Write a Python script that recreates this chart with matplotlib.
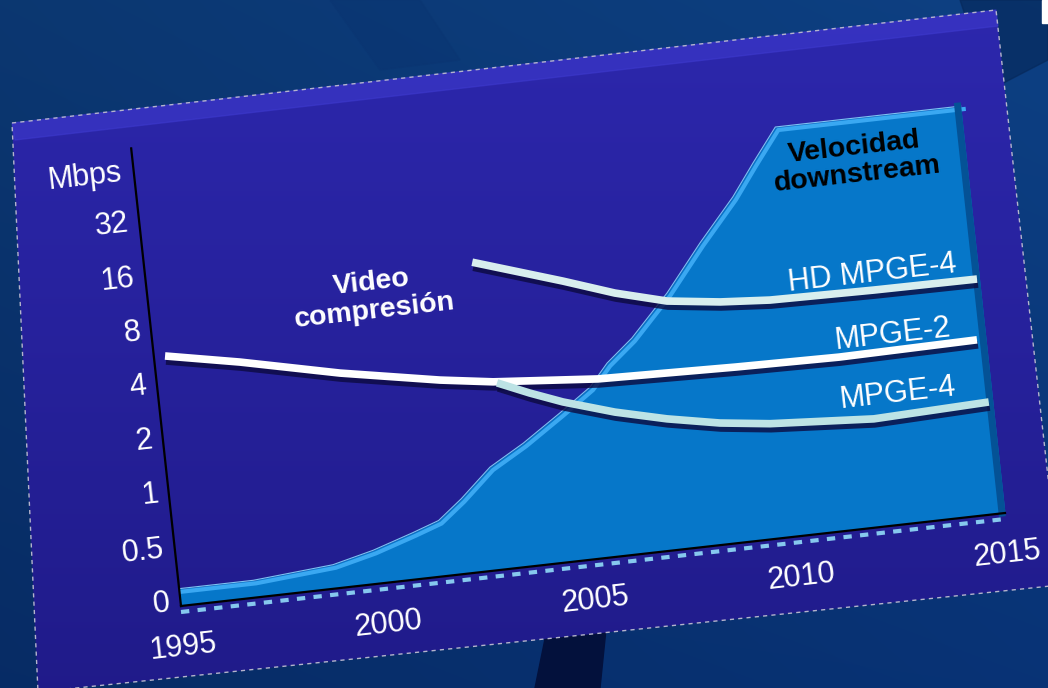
import numpy as np
import matplotlib
matplotlib.use('Agg')
import matplotlib.pyplot as plt
from matplotlib.patches import Polygon, Rectangle
from matplotlib.transforms import Affine2D, offset_copy

plt.rcParams['font.family'] = ['Liberation Sans', 'DejaVu Sans']

# axis ticks
y_ticks = [0, 0.5, 1, 2, 4, 8, 16, 32]
y_labels = ['0', '0.5', '1', '2', '4', '8', '16', '32']
x_ticks = [1995, 2000, 2005, 2010, 2015]

# Velocidad downstream (area), Mbps
dl_years = [1995, 1996.8, 1998.75, 1999.75, 2000.75, 2001.4, 2002.0, 2002.77, 2003.63,
            2004.59, 2005.38, 2005.85, 2006.51, 2007.47, 2008.39, 2009.3, 2009.87, 2010.5, 2015]
dl_mbps = [0.16, 0.16, 0.22, 0.31, 0.43, 0.51, 0.65, 0.93, 1.20,
           1.67, 2.22, 2.93, 3.88, 6.52, 11.7, 20.0, 29.8, 45.5, 45.5]

# video compression lines, Mbps
mpge2_years = [1995.27, 1997.05, 1999.42, 2001.8, 2003.07, 2005.59, 2008.93, 2011.43, 2014.78]
mpge2 = [6.02, 5.01, 3.78, 3.0, 2.72, 2.43, 2.32, 2.27, 2.32]

mpge4_years = [2003.16, 2003.92, 2004.69, 2005.91, 2007.14, 2008.4, 2009.6, 2012.1, 2014.9]
mpge4 = [2.67, 2.24, 1.91, 1.56, 1.33, 1.17, 1.08, 0.99, 1.04]

hd_years = [2002.88, 2005.0, 2006.22, 2007.45, 2008.72, 2009.92, 2012.44, 2014.94]
hd = [12.7, 8.8, 7.02, 5.89, 5.40, 5.15, 5.04, 5.0]

W, H = 1048, 688
fig = plt.figure(figsize=(W / 100, H / 100), dpi=100)

# ---- background (pixel coords) ----
bg = fig.add_axes([0, 0, 1, 1])
bg.set_xlim(0, W)
bg.set_ylim(H, 0)
bg.axis('off')

yy, xx = np.mgrid[0:H, 0:W] / np.array([H, W])[:, None, None]
top = np.array([0.05, 0.24, 0.49])
bot = np.array([0.03, 0.19, 0.44])
img = top[None, None, :] * (1 - yy[..., None]) + bot[None, None, :] * yy[..., None]
img = img * (0.9 + 0.15 * xx[..., None])
bg.imshow(np.clip(img, 0, 1), extent=(0, W, H, 0), zorder=0, aspect='auto')

# dark streaks of the slide background
bg.add_patch(Polygon([(535, 688), (555, 590), (610, 590), (600, 688)], color='#03113c', zorder=1))
bg.add_patch(Polygon([(330, 0), (420, 0), (460, 60), (380, 70)], color='#0a3572', alpha=0.5, zorder=1))
bg.add_patch(Polygon([(960, 0), (1048, 0), (1048, 60), (990, 90)], color='#062758', alpha=0.6, zorder=1))
bg.add_patch(Rectangle((1042, 0), 6, 23, color='white', zorder=5))

# chart panel
panel = [(12, 123), (996, 10), (1060, 585), (38, 692)]
ppoly = Polygon(panel, closed=True, facecolor='none', edgecolor='none', zorder=2)
bg.add_patch(ppoly)
pc_top = np.array([0.175, 0.155, 0.68])
pc_bot = np.array([0.125, 0.105, 0.54])
pimg = pc_top[None, None, :] * (1 - yy[..., None]) + pc_bot[None, None, :] * yy[..., None]
pim = bg.imshow(pimg, extent=(0, W, H, 0), zorder=2, aspect='auto')
pim.set_clip_path(ppoly)
# bevel along top edge
bg.add_patch(Polygon([(12, 123), (996, 10), (998, 26), (15, 140)], color='#3f3bd0', alpha=0.55, zorder=3))
px, py = zip(*(panel + [panel[0]]))
bg.plot(px, py, color='#b4b4cc', lw=1, dashes=(3, 3), zorder=3)

# ---- data axes, skewed like the slide ----
def fwd(v):
    v = np.asarray(v, dtype=float)
    return np.where(v >= 0.5, np.log2(np.maximum(v, 0.5)), 2 * v - 2)

def inv(p):
    p = np.asarray(p, dtype=float)
    return np.where(p >= -1, 2.0 ** p, (p + 2) / 2)

ax = fig.add_axes([0, 0, 1, 1], zorder=4)
ax.patch.set_alpha(0)
ax.axis('off')
ax.set_yscale('function', functions=(fwd, inv))

skew = Affine2D(np.array([[824 / W, -47.2 / H, 181],
                          [93 / W, 433.6 / H, H - 606],
                          [0, 0, 1]]))
T = ax.transData + skew
rot = np.degrees(np.arctan2(93, 824))

def shifted(dx, dy):
    return offset_copy(T, fig=fig, x=dx, y=dy, units='dots')

# downstream area
ax.fill_between(dl_years, 0, dl_mbps, transform=T, color='#0677c9', lw=0, zorder=2, clip_on=False)
ax.plot(dl_years, dl_mbps, transform=shifted(3, -3), color='#3aa8f2', lw=3, zorder=3, clip_on=False)
ax.plot(dl_years, dl_mbps, transform=T, color='#7cc4f2', lw=0.8, zorder=3, clip_on=False)
ax.plot([2015, 2015], [0, 45.5], transform=shifted(-3, 0), color='#045296', lw=5, zorder=3, clip_on=False)

# axes lines
ax.plot([1995, 2015], [0, 0], transform=shifted(0, -6), color='#86c8ee', lw=3,
        dashes=(2, 2), zorder=3, clip_on=False)
ax.plot([1995, 2015], [0, 0], transform=T, color='black', lw=1.6, zorder=4, clip_on=False)
ax.plot([1995, 1995], [0, 87], transform=T, color='black', lw=1.6, zorder=4, clip_on=False)

# compression lines with shadow
for yrs, vals, col in [(hd_years, hd, '#d8eeee'), (mpge2_years, mpge2, 'white'),
                       (mpge4_years, mpge4, '#bde3e5')]:
    ax.plot(yrs, vals, transform=shifted(1, -5), color='#0c0a40', lw=5.5, alpha=0.8,
            solid_capstyle='butt', zorder=5, clip_on=False)
    ax.plot(yrs, vals, transform=T, color=col, lw=5.5, solid_capstyle='butt',
            solid_joinstyle='round', zorder=6, clip_on=False)

# tick labels
for v, lab in zip(y_ticks, y_labels):
    ax.text(1995, v, lab, transform=shifted(-11, 3), ha='right', va='center', color='white',
            fontsize=22, rotation=rot, rotation_mode='anchor', zorder=7)
ax.text(1995, 64, 'Mbps', transform=shifted(-12, 0), ha='right', va='center', color='white',
        fontsize=22, rotation=rot, rotation_mode='anchor', zorder=7)
for yr in x_ticks:
    ax.text(yr, 0, str(yr), transform=shifted(2, -41), ha='center', va='center', color='white',
            fontsize=22, rotation=rot, rotation_mode='anchor', zorder=7)

ax.set_xlim(1995, 2015)
ax.set_ylim(0, 64)

# annotations (pixel coords, drawn on top of the data axes)
ax.text(373, 297, 'Video\ncompresión', transform=bg.transData, color='white', fontsize=20.5,
        fontweight='bold', ha='center', va='center', rotation=rot, rotation_mode='anchor',
        linespacing=1.1, zorder=8)
ax.text(856, 161, 'Velocidad\ndownstream', transform=bg.transData, color='black', fontsize=20.5,
        fontweight='bold', ha='center', va='center', rotation=rot, rotation_mode='anchor',
        linespacing=1.1, zorder=8)
for lab, x, y in [('HD MPGE-4', 872, 274), ('MPGE-2', 893, 335), ('MPGE-4', 898, 393)]:
    ax.text(x, y, lab, transform=bg.transData, color='white', fontsize=22, ha='center',
            va='center', rotation=rot, rotation_mode='anchor', zorder=8)

fig.savefig('out.png', dpi=100)
